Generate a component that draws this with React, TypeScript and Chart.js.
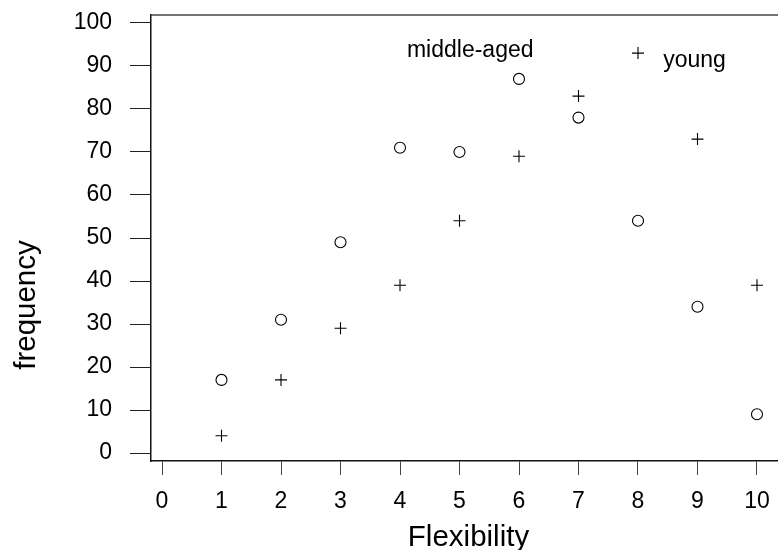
import React, { useEffect, useRef } from 'react'
import Chart from 'chart.js/auto'

// flexibility score (x) and how often each score occurred
const flexibility = [1, 2, 3, 4, 5, 6, 7, 8, 9, 10]
const middleAged = [17, 31, 49, 71, 70, 87, 78, 54, 34, 9]
const young = [4, 17, 29, 39, 54, 69, 83, 93, 73, 39]

const xTicks = [0, 1, 2, 3, 4, 5, 6, 7, 8, 9, 10]
const yTicks = [0, 10, 20, 30, 40, 50, 60, 70, 80, 90, 100]

// group names written next to their points, in data units
const groupLabels = [
  { text: 'middle-aged', x: 5.18, y: 92.2 },
  { text: 'young', x: 8.95, y: 89.8 },
]

const FONT = '"Liberation Sans", Arial, Helvetica, sans-serif'

const decorations = {
  id: 'decorations',
  afterDraw(chart: any) {
    const { ctx, chartArea, scales } = chart
    ctx.save()
    // top frame line (no right side in the original)
    ctx.strokeStyle = '#444'
    ctx.lineWidth = 1.5
    ctx.beginPath()
    ctx.moveTo(chartArea.left, chartArea.top)
    ctx.lineTo(chartArea.right, chartArea.top)
    ctx.stroke()

    ctx.fillStyle = '#000'
    ctx.font = `23px ${FONT}`
    ctx.textAlign = 'center'
    ctx.textBaseline = 'alphabetic'
    groupLabels.forEach((l) => {
      ctx.fillText(l.text, scales.x.getPixelForValue(l.x), scales.y.getPixelForValue(l.y))
    })

    // axis titles
    ctx.font = `29.5px ${FONT}`
    ctx.fillText('Flexibility', 468.5, 546)
    ctx.translate(35, 305)
    ctx.rotate(-Math.PI / 2)
    ctx.fillText('frequency', 0, 0)
    ctx.restore()
  },
}

export default function App() {
  const canvasRef = useRef<HTMLCanvasElement>(null)

  useEffect(() => {
    if (!canvasRef.current) return
    const tickFont = { family: FONT, size: 23 }
    const chart = new Chart(canvasRef.current, {
      type: 'scatter',
      data: {
        datasets: [
          {
            label: 'middle-aged',
            data: flexibility.map((x, i) => ({ x, y: middleAged[i] })),
            pointStyle: 'circle',
            pointRadius: 5.5,
            pointBorderWidth: 1.1,
            pointBorderColor: '#000',
            pointBackgroundColor: 'rgba(0,0,0,0)',
          },
          {
            label: 'young',
            data: flexibility.map((x, i) => ({ x, y: young[i] })),
            pointStyle: 'cross',
            pointRadius: 6,
            pointBorderWidth: 1.1,
            pointBorderColor: '#000',
            pointBackgroundColor: '#000',
          },
        ],
      },
      options: {
        animation: false,
        responsive: false,
        layout: { autoPadding: false, padding: { top: 15, left: 0, right: 0, bottom: 0 } },
        plugins: {
          legend: { display: false },
          tooltip: { enabled: false },
        },
        scales: {
          x: {
            type: 'linear',
            min: -0.185,
            max: 10.353,
            afterBuildTicks: (scale: any) => {
              scale.ticks = xTicks.map((value) => ({ value }))
            },
            afterFit: (scale: any) => {
              scale.height = 89
              scale.paddingLeft = 0
              scale.paddingRight = 0
            },
            ticks: { font: tickFont, color: '#000', padding: 13, maxRotation: 0, autoSkip: false },
            grid: { drawOnChartArea: false, drawTicks: true, tickLength: 14, color: '#444', lineWidth: 1 },
            border: { color: '#111', width: 1.5 },
          },
          y: {
            type: 'linear',
            min: -1.86,
            max: 101.86,
            afterBuildTicks: (scale: any) => {
              scale.ticks = yTicks.map((value) => ({ value }))
            },
            afterFit: (scale: any) => {
              scale.width = 151
              scale.paddingTop = 0
              scale.paddingBottom = 0
            },
            ticks: { font: tickFont, color: '#000', padding: 18, autoSkip: false },
            grid: { drawOnChartArea: false, drawTicks: true, tickLength: 21, color: '#222', lineWidth: 1 },
            border: { color: '#111', width: 1.5 },
          },
        },
      },
      plugins: [decorations],
    })
    return () => chart.destroy()
  }, [])

  return (
    <div style={{ position: 'absolute', left: 0, top: 0, width: 778, height: 550, background: '#fff' }}>
      <canvas ref={canvasRef} width={778} height={550} style={{ display: 'block' }} />
    </div>
  )
}
